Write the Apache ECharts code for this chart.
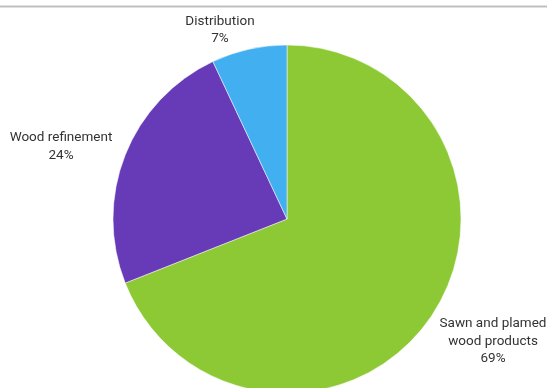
<!DOCTYPE html>
<html><head><meta charset="utf-8">
<script src="https://cdn.jsdelivr.net/npm/echarts@6/dist/echarts.min.js"></script>
<style>html,body{margin:0;padding:0;background:#fff}#c{width:547px;height:388px}</style>
</head><body><div id="c"></div>
<script>
const categories = ["Sawn and plamed\nwood products", "Wood refinement", "Distribution"];
const values = [69, 24, 7];
const colors = ["#8cc934", "#673ab7", "#42aff0"];

// label centre positions (layout only)
const labelPos = [[493, 341.5], [61, 146.5], [220, 30]];

const chart = echarts.init(document.getElementById('c'), null, {renderer: 'canvas'});
chart.setOption({
  animation: false,
  graphic: [{type: 'line', shape: {x1: 0, y1: 6.5, x2: 547, y2: 6.5}, style: {stroke: '#c0c0c0', lineWidth: 2}}],
  series: [{
    type: 'pie',
    center: [287, 219],
    radius: [0, 174],
    startAngle: 90,
    clockwise: true,
    data: categories.map((n, i) => ({name: n, value: values[i], itemStyle: {color: colors[i]}})),
    label: {
      show: true, position: 'outside',
      formatter: '{b}\n{d}%',
      fontFamily: 'Roboto', fontSize: 13.5, color: '#333333', lineHeight: 17.5, align: 'center',
      overflow: 'none'
    },
    labelLine: {show: false, length: 6, length2: 0},
    labelLayout: function (p) {
      const q = labelPos[p.dataIndex];
      return {x: q[0], y: q[1], align: 'center', verticalAlign: 'middle'};
    },
    itemStyle: {borderColor: '#fff', borderWidth: 0.5}
  }]
});
</script></body></html>
